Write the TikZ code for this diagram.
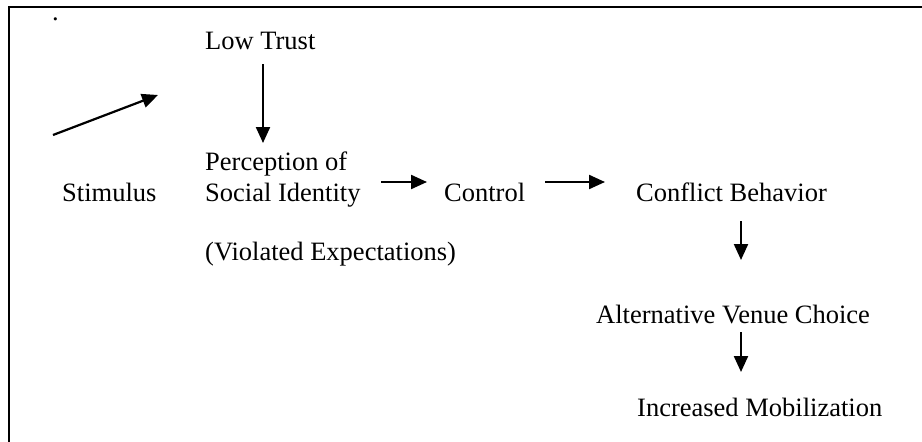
\documentclass[tikz,border=0pt]{standalone}
\usepackage{fontspec}
\setmainfont{Liberation Serif}
\usetikzlibrary{arrows.meta}
\tikzset{
  lbl/.style={anchor=base west, inner sep=0pt, font=\fontsize{26.5}{30}\selectfont},
  arr/.style={line width=2.2pt, -{Triangle[length=16pt,width=14pt]}},
  frame/.style={line width=2pt}
}
\begin{document}
\begin{tikzpicture}[x=1pt,y=-1pt]
\useasboundingbox (0,0) rectangle (922,442);
% frame (open at right and bottom)
\coordinate (fTL) at (9,7);
\coordinate (fTR) at (922,7);
\coordinate (fBL) at (9,442);
\draw[frame] (fTR) -- (fTL) -- (fBL);
% stray dot
\node[lbl] (dot) at (52,20) {.};
% labels
\node[lbl] (low) at (205,49) {Low Trust};
\node[lbl] (perc1) at (205,170) {Perception of};
\node[lbl] (perc2) at (205,201) {Social Identity};
\node[lbl] (stim) at (62,201) {Stimulus};
\node[lbl] (ctrl) at (444,201) {Control};
\node[lbl] (conf) at (636,201) {Conflict Behavior};
\node[lbl] (viol) at (205,260) {(Violated Expectations)};
\node[lbl] (alt) at (596,323) {Alternative Venue Choice};
\node[lbl] (inc) at (637,416) {Increased Mobilization};
% arrow endpoints
\coordinate (s1) at (53,135);
\coordinate (s2) at (158,95);
\coordinate (l1) at (263,64);
\coordinate (l2) at (263,143);
\coordinate (p1) at (381,182);
\coordinate (p2) at (427,182);
\coordinate (c1) at (545,182);
\coordinate (c2) at (605,182);
\coordinate (b1) at (741,221);
\coordinate (b2) at (741,260);
\coordinate (a1) at (741,332);
\coordinate (a2) at (741,372);
\draw[arr] (s1) -- (s2);
\draw[arr] (l1) -- (l2);
\draw[arr] (p1) -- (p2);
\draw[arr] (c1) -- (c2);
\draw[arr] (b1) -- (b2);
\draw[arr] (a1) -- (a2);
\end{tikzpicture}
\end{document}
